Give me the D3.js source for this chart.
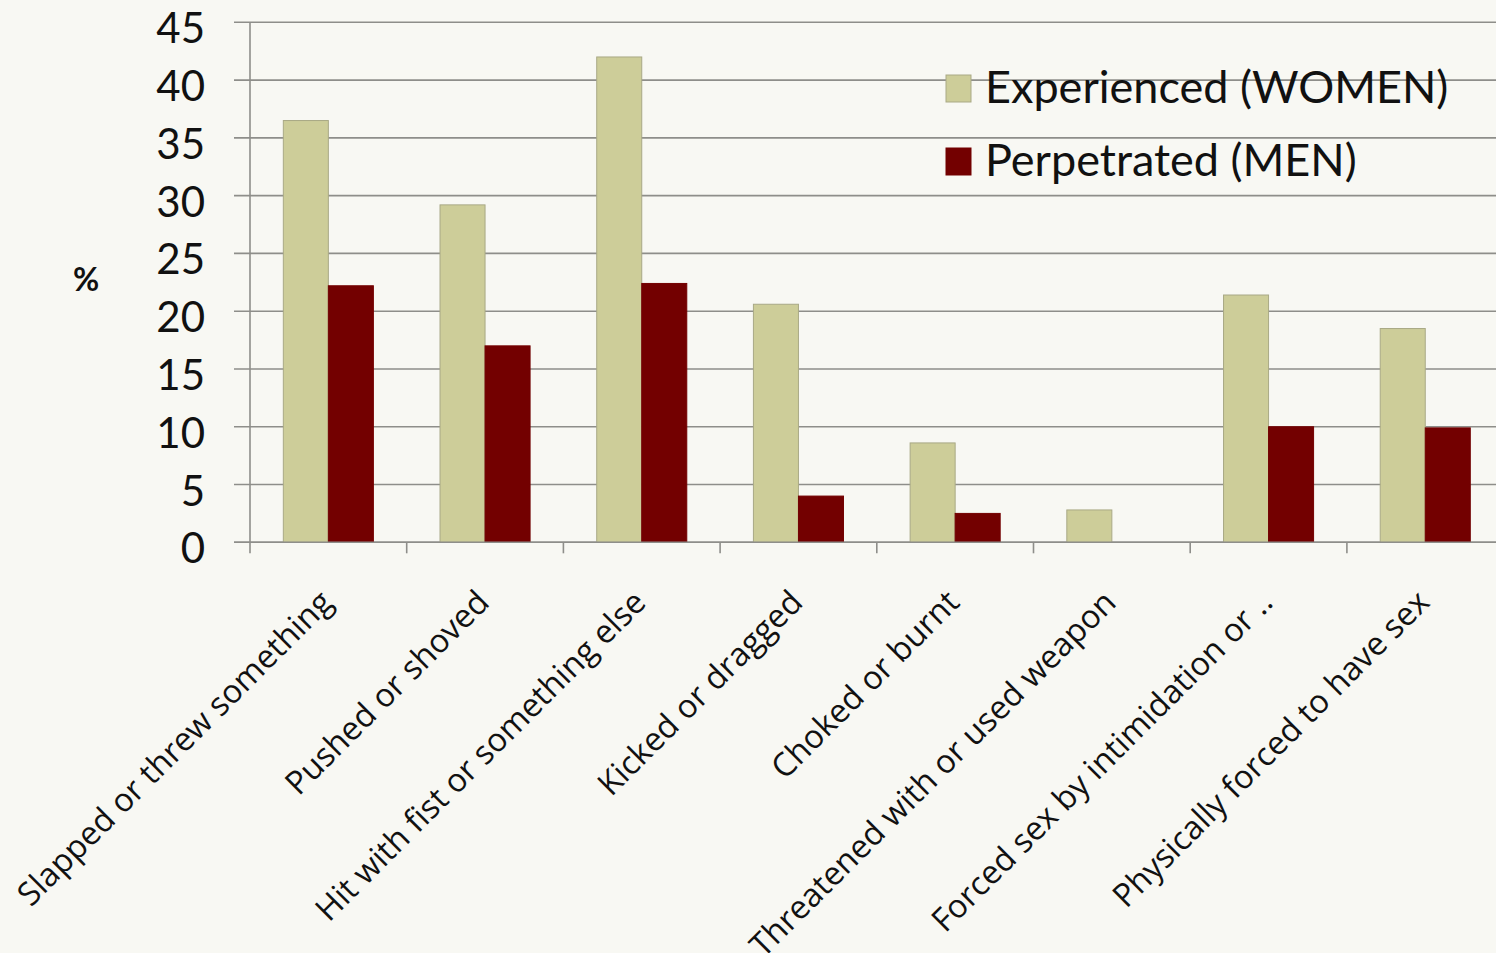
<!DOCTYPE html>
<html>
<head>
<meta charset="utf-8">
<script src="https://cdn.jsdelivr.net/npm/d3@7"></script>
<style>
  html, body { margin: 0; padding: 0; background: #f8f8f3; }
  svg { display: block; }
  text { font-family: Lato, "Open Sans", sans-serif; fill: #111; }
  .cat { font-family: "Open Sans", Lato, sans-serif; }
</style>
</head>
<body>
<svg id="chart" width="1496" height="953"></svg>
<script>
// Share of respondents reporting each act of partner violence (%)
const categories = [
  "Slapped or threw something",
  "Pushed or shoved",
  "Hit with fist or something else",
  "Kicked or dragged",
  "Choked or burnt",
  "Threatened with or used weapon",
  "Forced sex by intimidation or ..",
  "Physically forced to have sex"
];
const seriesNames = ["Experienced (WOMEN)", "Perpetrated (MEN)"];
const women = [36.5, 29.2, 42.0, 20.6, 8.6, 2.8, 21.4, 18.5];
const men   = [22.2, 17.0, 22.4, 4.0, 2.5, 0, 10.0, 9.9];
const yTicks = [0, 5, 10, 15, 20, 25, 30, 35, 40, 45];
const yLabel = "%";

const colors = ["#cdcd99", "#730000"];
const strokes = ["#a9a986", "#730000"];

const svg = d3.select("#chart");
const plotLeft = 250, plotRight = 1503.6, plotTop = 22.3, plotBottom = 542.3;

const x = d3.scaleBand().domain(categories).range([plotLeft, plotRight]).padding(0);
const xs = d3.scaleBand().domain(seriesNames).range([0, x.bandwidth()])
  .paddingInner(0).paddingOuter(0.74);
const y = d3.scaleLinear().domain([0, 45]).range([plotBottom, plotTop]);

// horizontal gridlines with short outward ticks
svg.append("g")
  .selectAll("line")
  .data(yTicks)
  .join("line")
  .attr("x1", plotLeft - 16).attr("x2", 1496)
  .attr("y1", d => y(d)).attr("y2", d => y(d))
  .attr("stroke", "#8e8e8a").attr("stroke-width", 1.6);

// y tick labels
svg.append("g")
  .selectAll("text")
  .data(yTicks)
  .join("text")
  .attr("x", 205).attr("y", d => y(d))
  .attr("dy", "0.5em")
  .attr("text-anchor", "end")
  .attr("font-size", 42)
  .text(d => d);

// vertical axis line
svg.append("line")
  .attr("x1", plotLeft).attr("x2", plotLeft)
  .attr("y1", plotTop).attr("y2", plotBottom + 11)
  .attr("stroke", "#8e8e8a").attr("stroke-width", 1.6);

// category boundary ticks
svg.append("g")
  .selectAll("line")
  .data(categories.slice(1))
  .join("line")
  .attr("x1", d => x(d)).attr("x2", d => x(d))
  .attr("y1", plotBottom).attr("y2", plotBottom + 11)
  .attr("stroke", "#8e8e8a").attr("stroke-width", 1.6);

// bars
const series = [women, men];
series.forEach((vals, si) => {
  svg.append("g")
    .selectAll("rect")
    .data(vals.map((v, i) => ({ cat: categories[i], v })))
    .join("rect")
    .attr("x", d => x(d.cat) + xs(seriesNames[si]))
    .attr("width", xs.bandwidth())
    .attr("y", d => y(d.v))
    .attr("height", d => y(0) - y(d.v))
    .attr("fill", colors[si])
    .attr("stroke", strokes[si])
    .attr("stroke-width", 1);
});

// x-axis baseline drawn over the bars
svg.append("line")
  .attr("x1", plotLeft - 16).attr("x2", 1496)
  .attr("y1", plotBottom).attr("y2", plotBottom)
  .attr("stroke", "#8e8e8a").attr("stroke-width", 1.6);

// rotated category labels
svg.append("g")
  .selectAll("text")
  .data(categories)
  .join("text")
  .attr("class", "cat")
  .attr("transform", d => `translate(${x(d) + x.bandwidth() / 2 + 6},${plotBottom + 62}) rotate(-45)`)
  .attr("text-anchor", "end")
  .attr("font-size", 32.5)
  .text(d => d);

// y-axis title
svg.append("text")
  .attr("x", 86).attr("y", 291)
  .attr("text-anchor", "middle")
  .attr("font-size", 32)
  .attr("font-weight", "bold")
  .text(yLabel);

// legend
const legend = svg.append("g");
seriesNames.forEach((name, i) => {
  const ly = 75 + i * 73;
  legend.append("rect")
    .attr("x", 946).attr("y", ly)
    .attr("width", 25).attr("height", 27)
    .attr("fill", colors[i]).attr("stroke", strokes[i]).attr("stroke-width", 1);
  legend.append("text")
    .attr("x", 985).attr("y", ly + 28)
    .attr("font-size", 45)
    .text(name);
});
</script>
</body>
</html>
